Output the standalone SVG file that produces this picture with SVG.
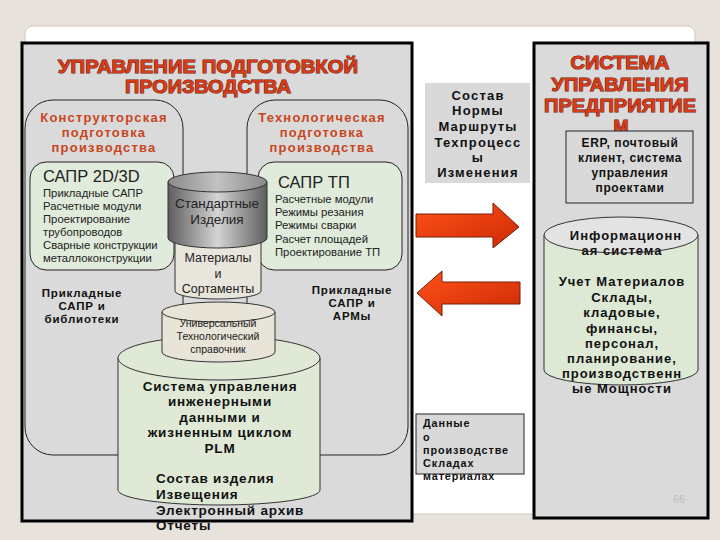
<svg xmlns="http://www.w3.org/2000/svg" width="720" height="540" viewBox="0 0 720 540">
<defs>
<style>
.t{font-family:"Liberation Sans",Arial,sans-serif;}
.title{font-family:"Liberation Sans",Arial,sans-serif;font-weight:bold;fill:#d63c18;stroke:#6e1606;stroke-width:1;paint-order:stroke;text-anchor:middle;}
.sub{font-family:"Liberation Sans",Arial,sans-serif;font-weight:bold;fill:#c8461e;font-size:13px;letter-spacing:1.2px;text-anchor:middle;}
.b{font-family:"Liberation Sans",Arial,sans-serif;font-weight:bold;fill:#111;}
.r{font-family:"Liberation Sans",Arial,sans-serif;fill:#222;}
.frame{fill:#dadada;stroke:#000;stroke-width:3;}
.round{fill:none;stroke:#222;stroke-width:1;}
.green{fill:#e0ebdb;stroke:#222;stroke-width:1;}
.cyl{stroke:#333;stroke-width:1;}
.c{text-anchor:middle;}
</style>
<linearGradient id="gray" x1="0" y1="0" x2="1" y2="0">
<stop offset="0" stop-color="#5e5e5e"/>
<stop offset="0.5" stop-color="#d4d4d4"/>
<stop offset="1" stop-color="#5e5e5e"/>
</linearGradient>
<linearGradient id="graytop" x1="0" y1="0" x2="1" y2="0">
<stop offset="0" stop-color="#8a8a8a"/>
<stop offset="0.5" stop-color="#c2c2c2"/>
<stop offset="1" stop-color="#8a8a8a"/>
</linearGradient>
<linearGradient id="red" x1="0" y1="0" x2="1" y2="1">
<stop offset="0" stop-color="#ff5218"/>
<stop offset="1" stop-color="#cc2a06"/>
</linearGradient>
</defs>
<rect width="720" height="540" fill="#e7e3dc"/>
<rect x="25" y="26" width="670" height="488" rx="8" fill="#fff" stroke="#cfcac2" stroke-width="1"/>

<g id="left-frame">
<rect class="frame" x="22" y="43" width="390" height="478"/>
<text class="title" x="208" y="73" font-size="18" textLength="300" lengthAdjust="spacingAndGlyphs">УПРАВЛЕНИЕ ПОДГОТОВКОЙ</text>
<text class="title" x="208" y="93" font-size="18" textLength="166" lengthAdjust="spacingAndGlyphs">ПРОИЗВОДСТВА</text>
</g>

<g id="design-prep">
<rect class="round" x="25" y="100" width="158" height="355" rx="28"/>
<text class="sub" x="104" y="122">Конструкторская</text>
<text class="sub" x="104" y="137">подготовка</text>
<text class="sub" x="104" y="152">производства</text>
</g>

<g id="tech-prep">
<rect class="round" x="247" y="100" width="161" height="355" rx="28"/>
<text class="sub" x="322" y="122">Технологическая</text>
<text class="sub" x="322" y="137">подготовка</text>
<text class="sub" x="322" y="152">производства</text>
</g>

<g id="cad-2d3d">
<rect class="green" x="30" y="162" width="144" height="108" rx="16"/>
<text class="r" x="43" y="182" font-size="16.5">САПР 2D/3D</text>
<g class="r" font-size="11.3">
<text x="43" y="197">Прикладные САПР</text>
<text x="43" y="210">Расчетные модули</text>
<text x="43" y="223">Проектирование</text>
<text x="43" y="236">трубопроводов</text>
<text x="43" y="249">Сварные конструкции</text>
<text x="43" y="262">металлоконструкции</text>
</g>
</g>

<g id="cad-tp">
<rect class="green" x="258" y="162" width="144" height="108" rx="16"/>
<text class="r" x="278" y="188" font-size="16.5">САПР ТП</text>
<g class="r" font-size="11.3">
<text x="275" y="203">Расчетные модули</text>
<text x="275" y="216">Режимы резания</text>
<text x="275" y="229">Режимы сварки</text>
<text x="275" y="243">Расчет площадей</text>
<text x="275" y="256">Проектирование ТП</text>
</g>
</g>

<g id="applied-libs" class="b c" font-size="11.5" letter-spacing="0.8">
<text x="82" y="297">Прикладные</text>
<text x="82" y="310">САПР и</text>
<text x="82" y="323">библиотеки</text>
</g>
<g id="applied-arm" class="b c" font-size="11.5" letter-spacing="0.8">
<text x="352" y="294">Прикладные</text>
<text x="352" y="307">САПР и</text>
<text x="352" y="320">АРМы</text>
</g>

<g id="plm">
<path class="cyl" d="M118,358 L118,490 A101,15 0 0 0 320,490 L320,358 Z" fill="#dfe9d6"/>
<ellipse class="cyl" cx="219" cy="358" rx="101" ry="22" fill="#dfe9d6"/>
<g class="b c" font-size="13.5" letter-spacing="0.8">
<text x="220" y="391">Система управления</text>
<text x="220" y="406">инженерными</text>
<text x="220" y="422">данными и</text>
<text x="220" y="437">жизненным циклом</text>
<text x="220" y="453">PLM</text>
</g>
<g class="b" font-size="13.5" letter-spacing="0.8">
<text x="156" y="483">Состав изделия</text>
<text x="156" y="499">Извещения</text>
<text x="156" y="515">Электронный архив</text>
<text x="156" y="530">Отчеты</text>
</g>
</g>

<g id="handbook">
<path class="cyl" d="M162,312 L162,352 A56.5,10 0 0 0 275,352 L275,312 Z" fill="#e8e4d8"/>
<ellipse class="cyl" cx="218.5" cy="312" rx="56.5" ry="10" fill="#e8e4d8"/>
<g class="r c" font-size="10.5">
<text x="218" y="327">Универсальный</text>
<text x="218" y="340">Технологический</text>
<text x="218" y="353">справочник</text>
</g>
</g>

<g id="materials">
<path class="cyl" d="M175,236 L175,291 A43,8 0 0 0 261,291 L261,236 Z" fill="#e8e5dc"/>
<g class="r c" font-size="12.5">
<text x="218" y="262">Материалы</text>
<text x="218" y="278">и</text>
<text x="218" y="293">Сортаменты</text>
</g>
</g>

<g id="standard-parts">
<path class="cyl" d="M168,182 L168,238 A49.5,10 0 0 0 267,238 L267,182 Z" fill="url(#gray)"/>
<ellipse class="cyl" cx="217.5" cy="182" rx="49.5" ry="10" fill="url(#graytop)"/>
<g class="r c" font-size="13.5">
<text x="217" y="208">Стандартные</text>
<text x="217" y="224">Изделия</text>
</g>
</g>

<g id="transfer-list">
<rect x="425" y="83" width="105" height="100" fill="#d9d9d9"/>
<g class="b c" font-size="13" letter-spacing="1.2">
<text x="478" y="100">Состав</text>
<text x="478" y="115">Нормы</text>
<text x="478" y="131">Маршруты</text>
<text x="478" y="147">Техпроцесс</text>
<text x="478" y="162">ы</text>
<text x="478" y="177">Изменения</text>
</g>
</g>

<g id="connectors">
<path d="M416,214 L493,214 L493,203 L519,227 L493,248 L493,237 L416,237 Z" fill="url(#red)" stroke="#7a1a08" stroke-width="1"/>
<path d="M520,282 L442,282 L442,271 L417,293 L442,316 L442,304 L520,304 Z" fill="url(#red)" stroke="#7a1a08" stroke-width="1"/>
<line x1="558" y1="138" x2="558" y2="222" stroke="#333" stroke-width="1"/>
</g>

<g id="production-data">
<rect x="416" y="414" width="108" height="60" fill="#d9d9d9" stroke="#222" stroke-width="1"/>
<g class="b" font-size="10.8" letter-spacing="0.9">
<text x="423" y="427">Данные</text>
<text x="423" y="441">о</text>
<text x="423" y="454">производстве</text>
<text x="423" y="467">Складах</text>
<text x="423" y="480">материалах</text>
</g>
</g>

<g id="right-frame">
<rect class="frame" x="534" y="43" width="174" height="475"/>
<text class="title" x="620" y="69" font-size="18" textLength="99" lengthAdjust="spacingAndGlyphs">СИСТЕМА</text>
<text class="title" x="620" y="91" font-size="18" textLength="137" lengthAdjust="spacingAndGlyphs">УПРАВЛЕНИЯ</text>
<text class="title" x="620" y="112" font-size="18" textLength="152" lengthAdjust="spacingAndGlyphs">ПРЕДПРИЯТИЕ</text>
<text class="title" x="621" y="133" font-size="18">М</text>
<text class="t" x="673" y="503" font-size="11" fill="#bdbdbd">66</text>
</g>

<g id="erp">
<rect x="566" y="131" width="127" height="72" fill="#d9d9d9" stroke="#222" stroke-width="1"/>
<g class="b c" font-size="12" letter-spacing="0.6">
<text x="630" y="147">ERP, почтовый</text>
<text x="630" y="162">клиент, система</text>
<text x="630" y="177">управления</text>
<text x="630" y="192">проектами</text>
</g>
</g>

<g id="info-system">
<path class="cyl" d="M544,235 L544,370 A77,15 0 0 0 698,370 L698,235 Z" fill="#dde8d5"/>
<ellipse class="cyl" cx="621" cy="235" rx="77" ry="18" fill="#e3e3e3"/>
<g class="b c" font-size="13" letter-spacing="1">
<text x="626" y="240">Информационн</text>
<text x="622" y="255">ая система</text>
<text x="622" y="286">Учет Материалов</text>
<text x="622" y="302">Склады,</text>
<text x="622" y="317">кладовые,</text>
<text x="622" y="333">финансы,</text>
<text x="622" y="348">персонал,</text>
<text x="622" y="363">планирование,</text>
<text x="622" y="378">производственн</text>
<text x="622" y="393">ые Мощности</text>
</g>
</g>
</svg>
